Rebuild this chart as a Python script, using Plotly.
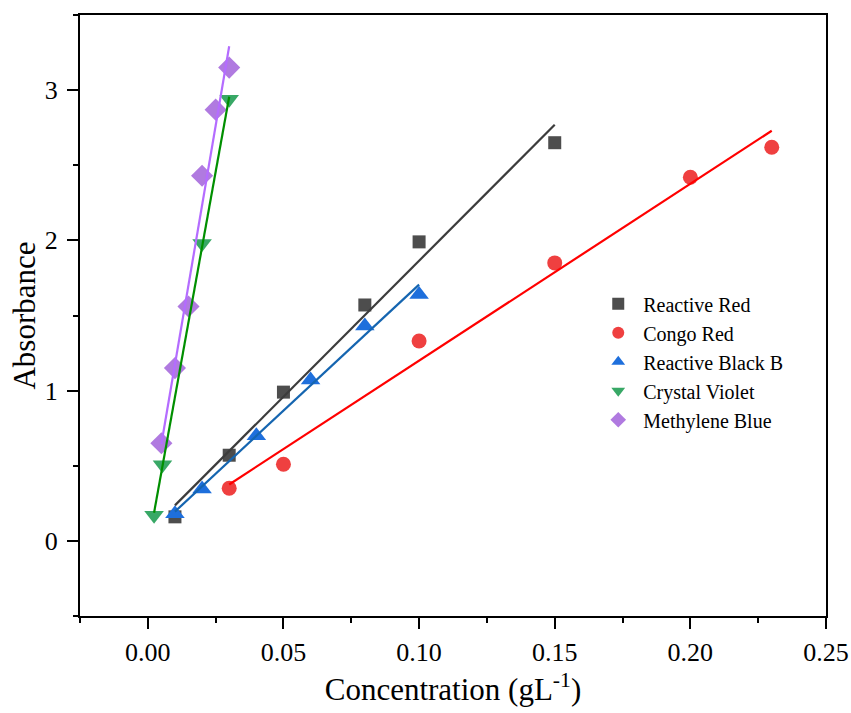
import numpy as np
import plotly.graph_objects as go

# Data
rr_x = [0.01, 0.03, 0.05, 0.08, 0.10, 0.15]
rr_y = [0.16, 0.57, 0.99, 1.57, 1.99, 2.65]

cr_x = [0.03, 0.05, 0.10, 0.15, 0.20, 0.23]
cr_y = [0.35, 0.51, 1.33, 1.85, 2.42, 2.62]

rb_x = [0.01, 0.02, 0.04, 0.06, 0.08, 0.10]
rb_y = [0.18, 0.345, 0.70, 1.07, 1.43, 1.64]

cv_x = [0.0023, 0.0054, 0.02, 0.03]
cv_y = [0.17, 0.507, 1.98, 2.94]

mb_x = [0.005, 0.01, 0.015, 0.02, 0.025, 0.03]
mb_y = [0.65, 1.15, 1.56, 2.43, 2.87, 3.15]

series = [
    ("Reactive Red", rr_x, rr_y, "square", 13, "#4d4d4d", "#3c3c3c"),
    ("Congo Red", cr_x, cr_y, "circle", 15, "#ef4040", "#ff0000"),
    ("Reactive Black B", rb_x, rb_y, "triangle-up", 17, "#1e6fdc", "#1565b0"),
    ("Crystal Violet", cv_x, cv_y, "triangle-down", 17, "#38a866", "#008f00"),
    ("Methylene Blue", mb_x, mb_y, "diamond", 17, "#b07ae0", "#b46cff"),
]

fig = go.Figure()
for name, xs, ys, sym, size, mcol, lcol in series:
    fig.add_trace(go.Scatter(
        x=xs, y=ys, mode="markers", name=name,
        marker=dict(symbol=sym, size=size, color=mcol, line=dict(width=0)),
    ))

for name, xs, ys, sym, size, mcol, lcol in series:
    slope, icpt = np.polyfit(xs, ys, 1)
    fx = np.array([min(xs), max(xs)])
    fig.add_trace(go.Scatter(
        x=fx, y=slope * fx + icpt, mode="lines", showlegend=False,
        line=dict(color=lcol, width=2.2), hoverinfo="skip",
    ))

font_family = "Liberation Serif, Times New Roman, serif"

fig.update_layout(
    width=851, height=713,
    margin=dict(l=80, r=25, t=15, b=97),
    plot_bgcolor="white", paper_bgcolor="white",
    font=dict(family=font_family, color="black", size=26),
    showlegend=True,
    legend=dict(
        x=0.688, y=0.552, xanchor="left", yanchor="top",
        font=dict(family=font_family, size=20, color="black"),
        bgcolor="rgba(0,0,0,0)", tracegroupgap=0, itemsizing="constant",
        itemwidth=40,
    ),
    xaxis=dict(
        range=[-0.025, 0.25], tickmode="linear", tick0=0, dtick=0.05,
        tickformat=".2f", showgrid=False, zeroline=False, automargin=False,
        showline=True, linewidth=2, linecolor="black", mirror=True,
        ticks="outside", ticklen=11, tickwidth=2, tickcolor="black",
        minor=dict(ticks="outside", ticklen=5, tickwidth=2, tickcolor="black",
                   dtick=0.025, tick0=0, showgrid=False),
        title=dict(text="Concentration (gL<sup>-1</sup>)", font=dict(size=31), standoff=12),
        tickfont=dict(size=26),
        ticklabelstandoff=1,
    ),
    yaxis=dict(
        range=[-0.5, 3.5], tickmode="linear", tick0=0, dtick=1,
        showgrid=False, zeroline=False, automargin=False,
        showline=True, linewidth=2, linecolor="black", mirror=True,
        ticks="outside", ticklen=11, tickwidth=2, tickcolor="black",
        minor=dict(ticks="outside", ticklen=5, tickwidth=2, tickcolor="black",
                   dtick=0.5, tick0=0, showgrid=False),
        title=dict(text="Absorbance", font=dict(size=31), standoff=0),
        tickfont=dict(size=26),
        ticklabelstandoff=4,
    ),
)

fig.write_html("out.html")
